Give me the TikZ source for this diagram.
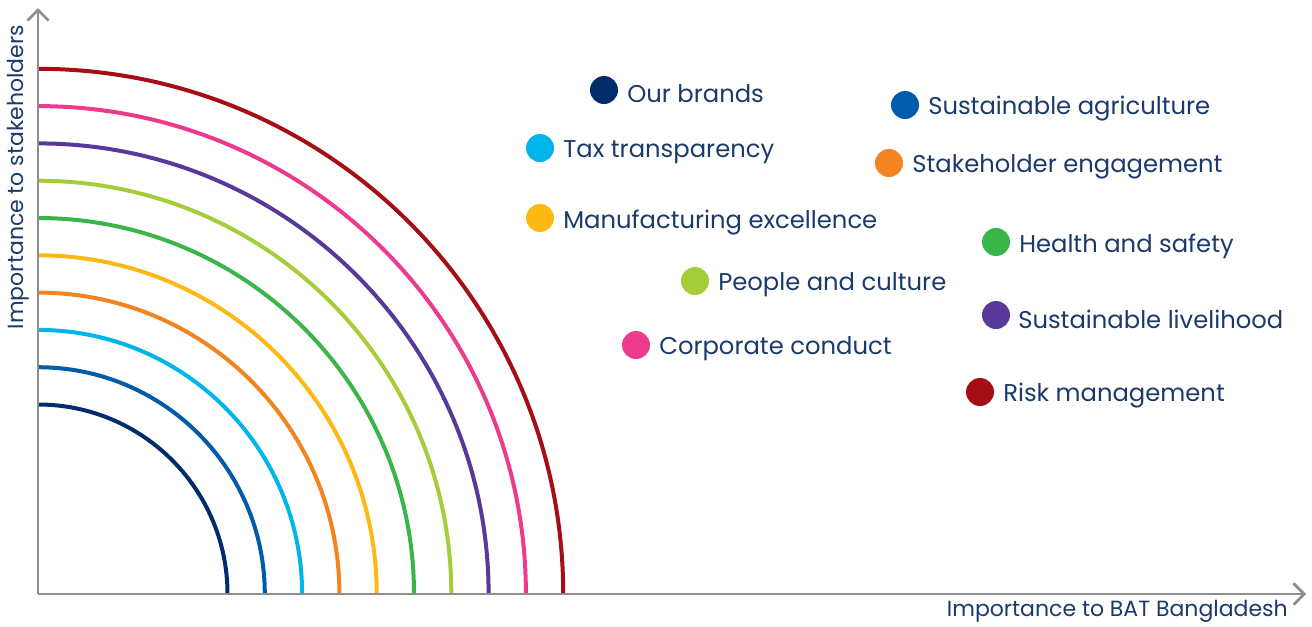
\documentclass[tikz,border=0pt]{standalone}
\usepackage{fontspec}
\setmainfont{Poppins}
\usetikzlibrary{arrows.meta}
\definecolor{cNavy}{HTML}{002D6A}
\definecolor{cBlue}{HTML}{005CAB}
\definecolor{cCyan}{HTML}{00B5E9}
\definecolor{cOrange}{HTML}{F3841F}
\definecolor{cYellow}{HTML}{FDB813}
\definecolor{cGreen}{HTML}{39B54A}
\definecolor{cLime}{HTML}{A5CD39}
\definecolor{cPurple}{HTML}{58399A}
\definecolor{cPink}{HTML}{EC3B8D}
\definecolor{cRed}{HTML}{A50E14}
\definecolor{cText}{HTML}{1B3A6B}
\definecolor{cAxis}{HTML}{8E8E8E}
\begin{document}
\begin{tikzpicture}[x=0.75pt,y=-0.75pt,
  axisline/.style={draw=cAxis,line width=2.2pt,-{Straight Barb[length=8pt,width=16pt,line width=2pt]}},
  ring/.style={line width=3pt},
  dot/.style={circle,fill=#1,minimum size=21pt,inner sep=0pt},
  lbl/.style={anchor=west,inner sep=0pt,text=cText,font=\fontsize{18.2}{21}\selectfont},
  axlbl/.style={inner sep=0pt,text=cText,font=\fontsize{16.5}{19}\selectfont}]
\useasboundingbox (0,0) rectangle (1312,626);
\coordinate (O) at (38,594);
\coordinate (ytip) at (38,8);
\coordinate (xtip) at (1306,594);
% rings
\foreach \c [count=\i from 0] in {cNavy,cBlue,cCyan,cOrange,cYellow,cGreen,cLime,cPurple,cPink,cRed}{
  \pgfmathsetmacro{\r}{189.5+37.3*\i}
  \draw[ring,draw=\c] ([xshift=\r*0.75pt]O) arc[start angle=0,end angle=90,radius=\r*0.75pt];
}
\draw[axisline] (O) -- (ytip);
\draw[axisline] (O) -- (xtip);
\node[axlbl,rotate=90] (ylab) at (18,177) {Importance to stakeholders};
\node[axlbl,anchor=east] (xlab) at (1288,611) {Importance to BAT Bangladesh};
% legend
\node[dot=cNavy] (d1) at (604,90) {};
\node[lbl] (t1) at (627,94) {Our brands};
\node[dot=cCyan] (d2) at (540,148) {};
\node[lbl] (t2) at (563,152) {Tax transparency};
\node[dot=cYellow] (d3) at (540,218) {};
\node[lbl] (t3) at (563,222) {Manufacturing excellence};
\node[dot=cLime] (d4) at (695,281) {};
\node[lbl] (t4) at (718,285) {People and culture};
\node[dot=cPink] (d5) at (636,345) {};
\node[lbl] (t5) at (659,349) {Corporate conduct};
\node[dot=cBlue] (d6) at (905,105) {};
\node[lbl] (t6) at (928,109) {Sustainable agriculture};
\node[dot=cOrange] (d7) at (889,163) {};
\node[lbl] (t7) at (912,167) {Stakeholder engagement};
\node[dot=cGreen] (d8) at (996,242) {};
\node[lbl] (t8) at (1019,246) {Health and safety};
\node[dot=cPurple] (d9) at (996,315) {};
\node[lbl] (t9) at (1018,319) {Sustainable livelihood};
\node[dot=cRed] (d10) at (980,392) {};
\node[lbl] (t10) at (1003,396) {Risk management};
\end{tikzpicture}
\end{document}
